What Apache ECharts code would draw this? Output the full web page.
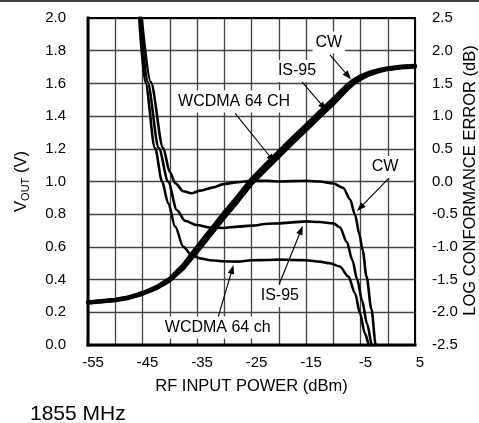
<!DOCTYPE html>
<html>
<head>
<meta charset="utf-8">
<script src="https://cdn.jsdelivr.net/npm/echarts@6/dist/echarts.min.js"></script>
<style>
  html, body { margin: 0; padding: 0; background: #fff; }
  #chart { width: 479px; height: 423px; }
</style>
</head>
<body>
<div id="chart"></div>
<script>
// RF input power (dBm) sampled for the output-voltage curves
const powerIn = [-55, -50, -47.5, -45, -42.5, -40, -37.5, -35, -32.5, -30, -27.5, -25,
                 -22.5, -20, -17.5, -15, -12.5, -10, -7.5, -6.25, -5, -3.75, -2.5, -1.25, 0, 2.5, 5];
// VOUT (V) for each modulation
const voutCW    = [0.262, 0.277, 0.292, 0.318, 0.354, 0.406, 0.49, 0.6, 0.705, 0.81, 0.91, 1.015,
                   1.1, 1.182, 1.265, 1.345, 1.425, 1.505, 1.588, 1.62, 1.643, 1.661, 1.675, 1.685, 1.693, 1.703, 1.708];
const voutIS95  = [0.26, 0.275, 0.29, 0.315, 0.35, 0.40, 0.48, 0.585, 0.69, 0.795, 0.895, 1.0,
                   1.085, 1.167, 1.25, 1.33, 1.41, 1.49, 1.575, 1.61, 1.635, 1.655, 1.67, 1.681, 1.69, 1.70, 1.705];
const voutWCDMA = [0.258, 0.273, 0.288, 0.312, 0.346, 0.394, 0.47, 0.57, 0.675, 0.78, 0.88, 0.985,
                   1.07, 1.152, 1.235, 1.315, 1.395, 1.475, 1.562, 1.6, 1.627, 1.649, 1.665, 1.677, 1.687, 1.697, 1.702];

// Log conformance error (dB) for each modulation
const cwErrPower = [-45.3, -43.5, -41.2, -40.0, -39.0, -37.5, -36.0, -34.4, -32.0, -30.2, -27.5, -25.0,
                    -22.0, -19.8, -17.5, -14.9, -12.5, -10.0, -8.2, -6.9, -6.0, -5.2, -4.6, -3.9, -3.0, -2.2, -2.0];
const cwErrDb    = [2.625, 1.525, 0.51, 0.15, -0.025, -0.15, -0.18, -0.14, -0.09, -0.04, -0.01, 0.01,
                    0.01, 0.0, 0.005, 0.01, 0.0, -0.03, -0.095, -0.275, -0.51, -0.81, -1.05, -1.45, -1.95, -2.5, -2.65];

const is95ErrPower = [-45.5, -44.1, -42.0, -40.3, -38.7, -37.2, -35.1, -32.5, -30.2, -27.5, -25.0, -22.0,
                      -19.8, -17.5, -14.9, -12.5, -10.0, -8.8, -7.5, -6.5, -5.6, -4.7, -3.8, -2.9, -2.7];
const is95ErrDb    = [2.625, 1.525, 0.51, 0.0, -0.435, -0.60, -0.665, -0.705, -0.71, -0.69, -0.675, -0.645,
                      -0.64, -0.625, -0.61, -0.62, -0.64, -0.70, -0.925, -1.20, -1.50, -1.825, -2.175, -2.5, -2.65];

const wcdmaErrPower = [-45.7, -44.5, -42.7, -41.4, -40.3, -39.0, -37.5, -36.0, -34.5, -32.5, -30.2, -27.5,
                       -25.0, -22.0, -19.8, -17.5, -14.9, -12.5, -10.6, -8.8, -7.2, -6.0, -5.1, -4.2, -3.4, -3.2];
const wcdmaErrDb    = [2.625, 1.525, 0.51, 0.0, -0.33, -0.69, -1.0, -1.125, -1.175, -1.205, -1.22, -1.225,
                       -1.205, -1.20, -1.195, -1.20, -1.205, -1.225, -1.25, -1.30, -1.455, -1.71, -2.015, -2.32, -2.5, -2.65];

// Labelled x ticks (gridlines every 5 dBm, labels every 10 dBm)
const xTickValues = [-55, -45, -35, -25, -15, -5, 5];

// Curve call-outs: text centre, arrow tail and arrow tip in (dBm, V)
const callouts = [
  { text: 'CW',          at: [-10.8, 1.85],  from: [-10.6, 1.774], to: [-6.74, 1.625] },
  { text: 'IS-95',       at: [-16.65, 1.676], from: [-15.73, 1.609], to: [-11.24, 1.435] },
  { text: 'WCDMA 64 CH', at: [-28.2, 1.489], from: [-28.0, 1.417], to: [-20.7, 1.115] },
  { text: 'CW',          at: [-0.5, 1.089],  from: [0.23, 1.021],  to: [-5.64, 0.82] },
  { text: 'IS-95',       at: [-19.8, 0.30],  from: [-19.9, 0.373], to: [-15.6, 0.728] },
  { text: 'WCDMA 64 ch', at: [-31.2, 0.107], from: [-31.1, 0.173], to: [-28.3, 0.489] }
];

const FONT = '"Liberation Sans", Arial, Helvetica, sans-serif';
const pair = (xs, ys) => xs.map((x, i) => [x, ys[i]]);

const chart = echarts.init(document.getElementById('chart'), null, { renderer: 'canvas' });

const gridLine = { show: true, lineStyle: { color: '#444', width: 1.3, type: 'solid' } };
const tickFont = { color: '#000', fontSize: 15, fontFamily: FONT };

function curve(name, data, axis, width, smooth) {
  return {
    name: name, type: 'line', yAxisIndex: axis, data: data,
    symbol: 'none', showSymbol: false, smooth: smooth, smoothMonotone: 'x',
    lineStyle: { color: '#000', width: width, cap: 'round', join: 'round' },
    emphasis: { disabled: true }, silent: true, z: 3
  };
}

chart.setOption({
  animation: false,
  backgroundColor: '#fff',
  grid: { left: 88, top: 18, width: 327, height: 327, containLabel: false },
  xAxis: [{
    type: 'value', min: -55, max: 5, interval: 5,
    axisLine: { show: false }, axisTick: { show: false },
    splitLine: gridLine,
    axisLabel: Object.assign({
      margin: 10, padding: [0, 0, 0, 10],
      formatter: v => xTickValues.some(t => Math.abs(t - v) < 1e-6) ? String(Math.round(v)) : ''
    }, tickFont)
  }],
  yAxis: [{
    type: 'value', position: 'left', min: 0, max: 2, interval: 0.2,
    axisLine: { show: false }, axisTick: { show: false },
    splitLine: gridLine,
    axisLabel: Object.assign({ margin: 22, formatter: v => v.toFixed(1) }, tickFont)
  }, {
    type: 'value', position: 'right', min: -2.5, max: 2.5, interval: 0.5,
    axisLine: { show: false }, axisTick: { show: false },
    splitLine: { show: false },
    axisLabel: Object.assign({ margin: 17, formatter: v => v.toFixed(1) }, tickFont)
  }],
  series: [
    curve('CW error', pair(cwErrPower, cwErrDb), 1, 2.6, 0.3),
    curve('IS-95 error', pair(is95ErrPower, is95ErrDb), 1, 2.6, 0.3),
    curve('WCDMA 64 CH error', pair(wcdmaErrPower, wcdmaErrDb), 1, 2.6, 0.3),
    curve('CW', pair(powerIn, voutCW), 0, 4, false),
    curve('IS-95', pair(powerIn, voutIS95), 0, 4, false),
    curve('WCDMA 64 CH', pair(powerIn, voutWCDMA), 0, 4, false)
  ]
});

// Frame, titles and call-outs placed through the chart's own coordinate system
const px = p => chart.convertToPixel({ xAxisIndex: 0, yAxisIndex: 0 }, p);
const topLeft = px([-55, 2]);
const botRight = px([5, 0]);
const gx0 = topLeft[0], gy0 = topLeft[1], gx1 = botRight[0], gy1 = botRight[1];
const cx = (gx0 + gx1) / 2, cy = (gy0 + gy1) / 2;

const elements = [];

// page rule across the top
elements.push({ type: 'line', z: 100, shape: { x1: 0, y1: 1, x2: 479, y2: 1 },
  style: { stroke: '#000', lineWidth: 1.5 } });

// plot frame
const frame = [
  [gx0, gy0, gx1, gy0, 2], [gx1, gy0, gx1, gy1, 2],
  [gx0, gy0, gx0, gy1, 3], [gx0, gy1, gx1, gy1, 3]
];
frame.forEach(f => elements.push({
  type: 'line', z: 100, shape: { x1: f[0], y1: f[1], x2: f[2], y2: f[3] },
  style: { stroke: '#000', lineWidth: f[4], lineCap: 'square' }
}));

// axis titles
elements.push({ type: 'text', z: 100, x: cx, y: 386,
  style: { text: 'RF INPUT POWER (dBm)', align: 'center', verticalAlign: 'middle',
           font: '16.5px ' + FONT, fill: '#000' } });
elements.push({ type: 'text', z: 100, x: 21, y: cy, rotation: Math.PI / 2,
  style: { text: '{v|V}{s|OUT}{v| (V)}', align: 'center', verticalAlign: 'middle', fill: '#000',
           rich: { v: { fontSize: 16.5, fontFamily: FONT, lineHeight: 20, verticalAlign: 'middle', fill: '#000' },
                   s: { fontSize: 11, fontFamily: FONT, lineHeight: 12, verticalAlign: 'bottom', fill: '#000' } } } });
elements.push({ type: 'text', z: 100, x: 470, y: cy - 1, rotation: Math.PI / 2,
  style: { text: 'LOG CONFORMANCE ERROR (dB)', align: 'center', verticalAlign: 'middle',
           font: '16.5px ' + FONT, fill: '#000' } });
elements.push({ type: 'text', z: 100, x: 30, y: 414,
  style: { text: '1855 MHz', align: 'left', verticalAlign: 'middle', font: '21px ' + FONT, fill: '#000' } });

// call-out labels with arrows
callouts.forEach(c => {
  const a = px(c.at), f = px(c.from), t = px(c.to);
  const dx = t[0] - f[0], dy = t[1] - f[1];
  const len = Math.hypot(dx, dy), ux = dx / len, uy = dy / len;
  const head = 9, half = 3.3;
  const bx = t[0] - ux * head, by = t[1] - uy * head;
  elements.push({ type: 'text', z: 50, x: a[0], y: a[1],
    style: { text: c.text, align: 'center', verticalAlign: 'middle', font: '16px ' + FONT,
             fill: '#000', backgroundColor: '#fff', padding: [3, 3, 3, 3] } });
  elements.push({ type: 'line', z: 60, shape: { x1: f[0], y1: f[1], x2: bx + ux * 2, y2: by + uy * 2 },
    style: { stroke: '#000', lineWidth: 1.1 } });
  elements.push({ type: 'polygon', z: 60,
    shape: { points: [[t[0], t[1]], [bx - uy * half, by + ux * half], [bx + uy * half, by - ux * half]] },
    style: { fill: '#000' } });
});

chart.setOption({ graphic: { elements: elements } });
</script>
</body>
</html>
